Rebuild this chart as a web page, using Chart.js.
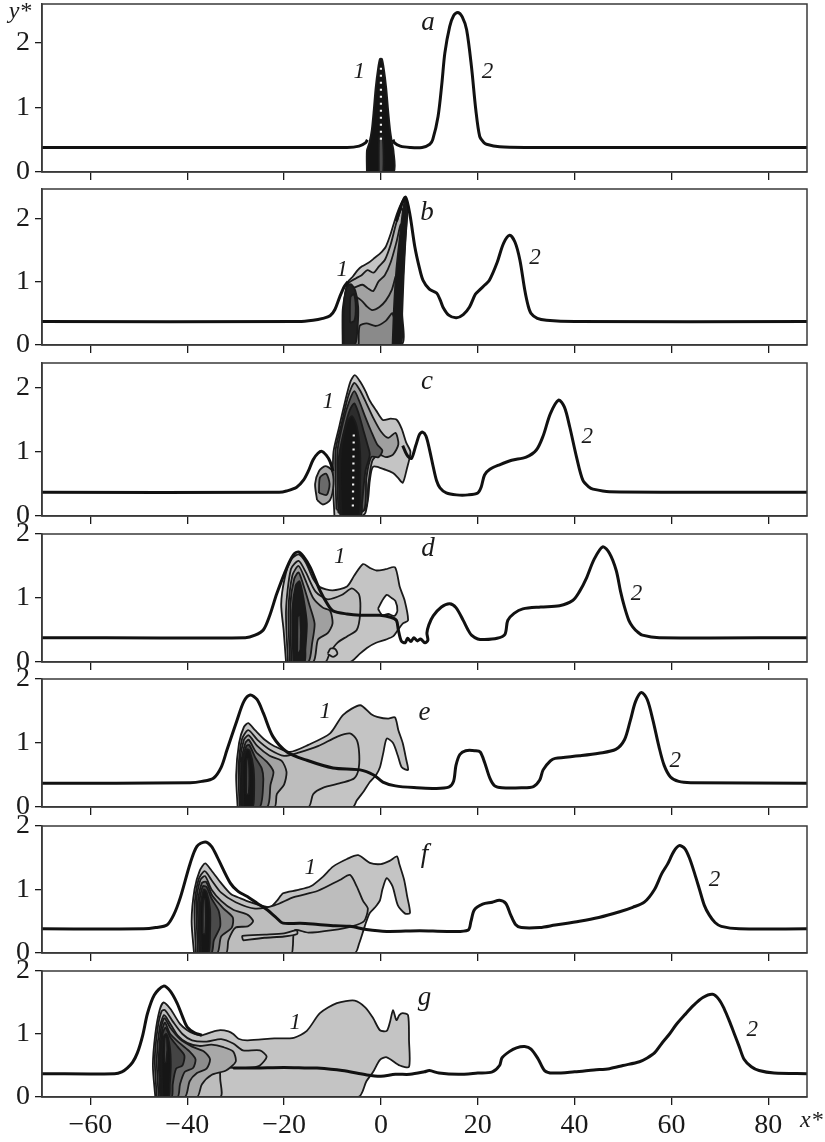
<!DOCTYPE html>
<html>
<head>
<meta charset="utf-8">
<script src="https://cdn.jsdelivr.net/npm/chart.js@4.4.0/dist/chart.umd.min.js"></script>
<style>
  html, body { margin: 0; padding: 0; background: #fff; width: 825px; height: 1142px; overflow: hidden; }
  #wrap { position: relative; width: 825px; height: 1142px; }
  #wrap canvas { position: absolute; left: 0; }
</style>
</head>
<body>
<div id="wrap"></div>
<script>
// axis ticks
const xTicks = [-60, -40, -20, 0, 20, 40, 60, 80];
const yTicks = [0, 1, 2];

// ---- curve 2 (one or two pieces per panel), [x*, y*] ----
const curveA1 = [[-70,0.38],[-7,0.38],[-4.5,0.4],[-3.2,0.45],[-2.8,0.5]];
const curveA2 = [[2.5,0.5],[2.8,0.45],[4,0.4],[6,0.38],[8.5,0.38],[10.1,0.43],[10.7,0.5],[11.8,0.86],[12.6,1.38],[13.2,1.84],[14.2,2.25],[15,2.42],[15.9,2.47],[16.8,2.4],[17.7,2.2],[18.7,1.63],[19.6,0.96],[20.4,0.55],[21.2,0.46],[21.8,0.43],[24.5,0.39],[30,0.38],[88,0.38]];

const curveB1 = [[-70,0.37],[-17,0.37],[-14,0.39],[-12,0.42],[-10.5,0.46],[-9.5,0.56],[-8.5,0.76],[-7.5,0.93],[-6.8,1.0]];
const curveB2 = [[3.2,1.95],[4.2,2.2],[5.1,2.33],[6,2.05],[7,1.55],[8,1.2],[8.7,1.02],[10,0.88],[11.5,0.82],[12.3,0.7],[12.8,0.6],[14,0.47],[15.6,0.43],[17,0.48],[18.3,0.6],[19.5,0.8],[20.4,0.87],[21.5,0.95],[22.4,1.02],[24,1.3],[25.3,1.6],[26.6,1.73],[27.7,1.62],[28.7,1.34],[29.7,0.87],[30.4,0.62],[31,0.5],[32.3,0.42],[34.2,0.39],[40,0.37],[88,0.37]];

const curveC1 = [[-70,0.37],[-21,0.37],[-19.5,0.39],[-17.4,0.45],[-16,0.56],[-15,0.7],[-14,0.88],[-13,0.98],[-12.2,1.01],[-11.3,0.95],[-10.5,0.85],[-9.9,0.7]];
const curveC2 = [[4.5,1.1],[5.4,0.95],[6.3,0.9],[7.2,1.1],[8,1.28],[8.6,1.31],[9.3,1.25],[10,1.05],[10.8,0.77],[11.5,0.55],[12.2,0.44],[13.5,0.36],[15.6,0.33],[18,0.33],[20,0.36],[20.7,0.45],[21.4,0.64],[22.5,0.73],[24.5,0.8],[27,0.87],[30,0.92],[32.1,1.03],[33.5,1.25],[35,1.6],[36.7,1.81],[37.9,1.7],[39,1.39],[40.4,0.92],[41.7,0.56],[43,0.45],[43.8,0.42],[47.2,0.38],[88,0.37]];

const curveD = [[-70,0.38],[-28,0.38],[-26,0.42],[-24.3,0.5],[-23,0.72],[-21.5,1.07],[-19.4,1.48],[-18,1.68],[-17,1.72],[-16,1.65],[-14.6,1.48],[-12.6,1.12],[-11,0.9],[-9.9,0.8],[-7,0.75],[-4.3,0.73],[-0.2,0.73],[2,0.7],[3.2,0.65],[3.6,0.5],[4.2,0.33],[5,0.3],[5.5,0.37],[6.2,0.32],[6.8,0.38],[7.5,0.33],[8.2,0.36],[9.1,0.3],[9.7,0.34],[9.5,0.45],[9.9,0.58],[10.8,0.72],[12.5,0.86],[14.2,0.91],[15.5,0.85],[17,0.65],[18,0.5],[18.7,0.42],[20,0.36],[21.4,0.35],[24,0.37],[25.6,0.43],[26.2,0.65],[27.5,0.76],[29.3,0.83],[33,0.86],[36.9,0.88],[39.6,0.96],[41,1.1],[42.5,1.32],[44,1.6],[45.8,1.8],[47.2,1.7],[48.6,1.43],[49.5,1.1],[50.3,0.86],[51.2,0.65],[52,0.55],[53,0.47],[54,0.42],[57.5,0.38],[88,0.38]];

const curveE = [[-70,0.37],[-39.4,0.38],[-37,0.4],[-34.6,0.45],[-33,0.62],[-31.8,0.89],[-29.7,1.36],[-28.3,1.65],[-27,1.75],[-25.6,1.68],[-24.3,1.47],[-22.3,1.1],[-19.4,0.86],[-15.3,0.73],[-9.9,0.61],[-4.3,0.58],[-1.5,0.5],[0.4,0.39],[3,0.33],[7.4,0.3],[11,0.29],[14,0.31],[15,0.4],[15.5,0.65],[16.3,0.82],[17.5,0.88],[19.5,0.88],[20.5,0.86],[21.4,0.7],[22.5,0.45],[23.5,0.33],[25,0.3],[29,0.3],[31.5,0.32],[32.8,0.42],[33.5,0.58],[35,0.72],[36,0.76],[41,0.8],[45,0.84],[48.5,0.9],[50.3,1.05],[51.5,1.35],[52.6,1.65],[53.8,1.79],[55,1.68],[56.2,1.35],[57.4,0.95],[58.5,0.65],[59.8,0.47],[61.5,0.4],[64,0.38],[88,0.37]];

const curveF = [[-70,0.38],[-49,0.38],[-46.5,0.4],[-44.2,0.44],[-42.8,0.6],[-41.4,0.88],[-39.4,1.41],[-38,1.68],[-36.3,1.75],[-35,1.68],[-33.8,1.51],[-31.1,1.1],[-29.5,0.97],[-27.6,0.89],[-25.5,0.78],[-23.5,0.68],[-21.8,0.57],[-20.2,0.47],[-16.7,0.47],[-13,0.45],[-9.5,0.43],[-6.4,0.42],[-3,0.37],[1.2,0.34],[8,0.35],[14,0.34],[18,0.36],[18.6,0.5],[19.3,0.68],[21,0.77],[23,0.8],[24.5,0.83],[25.8,0.78],[26.8,0.6],[27.8,0.45],[29,0.4],[32.8,0.4],[36,0.44],[41,0.5],[45,0.56],[49.3,0.65],[52,0.72],[54.4,0.8],[56.5,1.0],[58,1.25],[59.2,1.4],[60.5,1.6],[61.6,1.69],[62.7,1.65],[63.7,1.5],[64.8,1.25],[65.8,1.0],[66.8,0.75],[67.8,0.6],[69,0.48],[70.3,0.42],[74,0.38],[88,0.38]];

const curveG1 = [[-70,0.37],[-55,0.37],[-53.5,0.4],[-52.4,0.46],[-51.3,0.55],[-50.3,0.7],[-49.2,0.98],[-48.2,1.33],[-46.8,1.62],[-44.9,1.76],[-43.5,1.68],[-42.1,1.49],[-41,1.28],[-40,1.11],[-38.5,1.02],[-37,0.98]];
const curveG2 = [[-30.5,0.46],[-26,0.46],[-20,0.47],[-15,0.46],[-13.2,0.46],[-8,0.42],[-2.9,0.35],[0,0.33],[3,0.36],[6,0.36],[9,0.4],[10,0.42],[12,0.38],[16,0.36],[20,0.38],[23,0.4],[24.5,0.5],[25,0.62],[26.5,0.72],[28,0.78],[29.7,0.8],[31,0.76],[32.5,0.6],[33.8,0.42],[35.5,0.38],[40,0.4],[44,0.43],[47.2,0.45],[50,0.5],[53.4,0.56],[55,0.62],[56.5,0.7],[58,0.85],[59.6,1.0],[61,1.15],[62.7,1.3],[64.5,1.45],[66.5,1.58],[68.5,1.63],[69.8,1.55],[70.9,1.4],[72,1.2],[73,1.0],[74,0.8],[75,0.6],[76.5,0.48],[78.1,0.42],[81.2,0.38],[88,0.37]];

// ---- region 1: contour levels, outer to inner ----
const spikeA = [[-2.9,0],[-2.9,0.33],[-2.4,0.45],[-1.9,0.65],[-1.5,0.95],[-1.1,1.3],[-0.6,1.6],[-0.2,1.75],[0.2,1.75],[0.6,1.6],[1.1,1.3],[1.5,0.95],[1.9,0.65],[2.3,0.45],[2.6,0.33],[2.6,0]];
const stripeA = [[-0.45,0],[-0.35,0.55],[0.35,0.55],[0.45,0]];
const dotsA = [[0,0.5],[0,1.68]];

const outerB = [[-7.9,0],[-7.9,0.55],[-7.3,0.85],[-6.8,1.0],[-5.8,1.08],[-4.8,1.18],[-3.9,1.24],[-2.5,1.3],[-1.2,1.38],[-0.2,1.44],[1,1.55],[2,1.75],[3,2.0],[4,2.2],[5,2.33],[5.5,2.15],[5.1,1.7],[4.7,1.1],[4.4,0.5],[4.2,0]];
const levB2 = [[-7.6,0],[-7.6,0.7],[-6.6,0.98],[-5.2,1.05],[-4,1.1],[-2.8,1.18],[-1.5,1.14],[-0.4,1.24],[0.8,1.34],[2,1.58],[3.2,1.93],[4.3,2.15],[4.9,2.0],[4.5,1.4],[4.1,0.7],[3.8,0]];
const levB3 = [[-7.3,0],[-7.3,0.7],[-6.2,0.88],[-5,0.92],[-3.8,0.95],[-2.8,0.9],[-1.6,0.85],[-0.5,1.0],[0.8,1.1],[2,1.3],[3.2,1.62],[4.1,1.9],[4.3,1.5],[3.9,0.8],[3.5,0]];
const levB4 = [[-6.9,0],[-6.9,0.6],[-5.5,0.76],[-4,0.7],[-2.8,0.6],[-1.8,0.55],[-0.3,0.6],[1,0.7],[2.2,0.86],[3.2,1.1],[3.7,0.8],[3.3,0]];
const levB5 = [[-4.6,0],[-4.4,0.3],[-3,0.34],[-1,0.3],[1,0.38],[2.4,0.5],[3.1,0]];
const bandB = [[2.4,0],[2.7,0.6],[3.2,1.2],[3.9,1.7],[4.6,2.15],[5.1,2.3],[5.3,2.0],[4.8,1.4],[4.4,0.8],[4.1,0]];
const blobB = [[-7.7,0],[-7.7,0.55],[-7.1,0.9],[-6.2,0.96],[-5.3,0.86],[-4.7,0.6],[-4.9,0.2],[-5.4,0]];
const coreB = [[-6.4,0.35],[-6.3,0.75],[-5.6,0.8],[-5.2,0.6],[-5.5,0.38]];

const outerC = [[-9.6,0],[-9.9,0.5],[-9.8,1.0],[-8.6,1.4],[-7.3,1.82],[-6.3,2.1],[-5.4,2.2],[-4.3,2.1],[-3.2,1.95],[-2.3,1.8],[-1,1.65],[0.4,1.5],[2,1.52],[3.3,1.5],[4.3,1.36],[5.2,1.15],[6.1,1.0],[5.3,0.72],[4.5,0.52],[3.5,0.6],[2.5,0.67],[1,0.72],[-1.6,0.77],[-2.3,0.55],[-2.6,0.3],[-3.2,0.05],[-4,0]];
const levC2 = [[-9.2,0.1],[-9.4,1.0],[-8.1,1.45],[-6.8,1.86],[-5.5,2.08],[-4.3,1.96],[-3,1.76],[-1.5,1.52],[0,1.32],[1.5,1.22],[3,1.3],[3.6,1.12],[2.5,0.96],[1,0.92],[-0.5,0.96],[-1.8,0.86],[-2.6,0.5],[-3.3,0.1]];
const levC3 = [[-8.8,0.05],[-9,1.0],[-7.7,1.5],[-6.5,1.8],[-5.5,1.95],[-4.5,1.8],[-3.3,1.56],[-2,1.32],[-0.8,1.12],[0.3,1.02],[-0.5,0.92],[-2,0.92],[-3,0.6],[-3.6,0.08]];
const levC4 = [[-8.4,0],[-8.7,0.9],[-7.4,1.4],[-6.4,1.66],[-5.5,1.76],[-4.6,1.6],[-3.7,1.36],[-2.8,1.12],[-2.3,0.96],[-3.2,0.7],[-3.9,0.2],[-4.2,0]];
const coreC = [[-8.1,0],[-8.4,0.6],[-8.1,1.1],[-7,1.46],[-6,1.56],[-5,1.4],[-4.3,1.0],[-4.3,0.5],[-4.6,0]];
const blobC = [[-13.2,0.25],[-13.6,0.5],[-12.8,0.7],[-11.5,0.78],[-10.2,0.72],[-9.8,0.5],[-10.5,0.25],[-12,0.18]];
const blobC2 = [[-12.8,0.36],[-12.6,0.6],[-11.3,0.66],[-10.6,0.5],[-11.2,0.33]];
const dotsC = [[-5.8,0.15],[-5.6,1.3]];

const outerD = [[-19.6,0],[-20.1,0.5],[-20.6,0.9],[-19.9,1.3],[-18.6,1.6],[-17,1.68],[-15.5,1.55],[-14,1.3],[-12.6,1.17],[-10,1.12],[-7,1.18],[-5.5,1.35],[-3.7,1.53],[-2.3,1.47],[-0.9,1.43],[1,1.45],[2.9,1.48],[3.9,1.17],[4.9,0.96],[5.6,0.65],[4.5,0.6],[3.5,0.5],[2.5,0.4],[1,0.35],[-1,0.3],[-2.9,0.22],[-4.5,0.12],[-6.4,0]];
const levD2 = [[-19.2,0],[-19.6,0.8],[-18.6,1.45],[-17,1.58],[-15.5,1.4],[-13.5,1.1],[-11,0.98],[-8,1.05],[-6,1.15],[-4.5,1.05],[-4.3,0.75],[-5,0.5],[-7,0.4],[-9,0.3],[-10.5,0.15],[-11.5,0]];
const levD3 = [[-18.8,0],[-19.1,0.8],[-18.3,1.35],[-17,1.5],[-15.7,1.3],[-14,1.0],[-12,0.85],[-10.5,0.8],[-10,0.6],[-11,0.45],[-13,0.35],[-14,0]];
const levD4 = [[-18.5,0],[-18.7,0.9],[-17.9,1.3],[-17,1.4],[-16,1.2],[-14.8,0.9],[-13.7,0.6],[-14.2,0.3],[-15,0]];
const coreD = [[-18.1,0],[-18.3,0.8],[-17.6,1.2],[-16.8,1.26],[-16,1.0],[-15.3,0.6],[-15.6,0.2],[-15.8,0]];
const streakD = [[-17.3,0.1],[-17.2,0.7],[-16.7,0.75],[-16.6,0.2]];
const ovalD = [[-11,0.13],[-10.4,0.21],[-9.4,0.2],[-9,0.13],[-9.9,0.08]];
const holeD = [[-0.6,0.83],[0.2,0.95],[1.2,1.05],[2.2,1.0],[3.0,0.95],[3.4,0.8],[2.8,0.72],[1.5,0.75],[0.3,0.73]];

const outerE = [[-29.6,0],[-29.9,0.5],[-29.3,1.0],[-28.3,1.25],[-27.4,1.31],[-26,1.2],[-24,1.05],[-22,0.95],[-18.8,0.86],[-15,0.97],[-10.5,1.15],[-7.8,1.44],[-4.3,1.59],[-2,1.45],[-0.8,1.41],[1.5,1.38],[2.9,1.4],[3.6,1.2],[4.5,1.0],[5.2,0.75],[5.6,0.58],[4.3,0.62],[3.5,0.8],[2.5,1.0],[1.2,1.07],[0.5,0.85],[-0.2,0.62],[-1,0.5],[-2.3,0.39],[-3.5,0.25],[-5,0.1],[-5.8,0]];
const levE2 = [[-29.2,0],[-29.4,0.6],[-28.7,1.06],[-27.4,1.2],[-25.5,1.05],[-23,0.9],[-20,0.8],[-17,0.85],[-13,0.95],[-9,1.1],[-6.4,1.15],[-5,1.05],[-4.5,0.85],[-4.6,0.6],[-5.5,0.45],[-8,0.38],[-12,0.3],[-14,0.2],[-15,0]];
const levE3 = [[-28.9,0],[-29.1,0.7],[-28.3,1.05],[-27.3,1.12],[-25.5,0.95],[-23,0.8],[-20.5,0.72],[-19.5,0.55],[-20,0.35],[-21.5,0.2],[-22,0]];
const levE4 = [[-28.7,0],[-28.8,0.7],[-28,1.0],[-27.3,1.05],[-25.8,0.86],[-23.5,0.7],[-22.2,0.55],[-22.8,0.35],[-23.5,0]];
const levE5 = [[-28.5,0],[-28.6,0.7],[-27.8,0.95],[-27.2,0.97],[-26,0.78],[-24.6,0.6],[-24.3,0.4],[-25,0]];
const coreE = [[-28.4,0],[-28.5,0.7],[-27.7,0.9],[-27.1,0.88],[-26.3,0.6],[-26.2,0.2],[-26.5,0]];
const streakE = [[-27.8,0.2],[-27.7,0.75],[-27.3,0.75],[-27.3,0.2]];

const outerF = [[-38.6,0],[-39.1,0.5],[-38.5,1.0],[-37.4,1.3],[-36.3,1.41],[-35,1.3],[-33,1.1],[-31,0.93],[-29,0.86],[-27,0.8],[-23,0.72],[-21.5,0.82],[-20.2,0.94],[-17.3,0.99],[-14.5,1.05],[-12,1.2],[-9.9,1.36],[-7,1.48],[-4.7,1.54],[-2.3,1.42],[0,1.4],[1.8,1.45],[3.3,1.52],[3.8,1.4],[4.8,1.15],[5.4,0.9],[6,0.63],[5,0.62],[3.5,0.75],[2.4,1.05],[1.2,1.18],[0.3,1.0],[-0.2,0.83],[-1.2,0.72],[-2.3,0.63],[-3,0.5],[-3.6,0.36],[-4.5,0.15],[-5.4,0]];
const levF2 = [[-38.2,0],[-38.5,0.7],[-37.7,1.15],[-36.4,1.29],[-35,1.15],[-33,0.95],[-30,0.8],[-26,0.7],[-22,0.75],[-18,0.88],[-13,0.98],[-8.5,1.15],[-6.4,1.23],[-5,1.05],[-3.7,0.82],[-2.7,0.7],[-3.5,0.5],[-6,0.42],[-10,0.36],[-15,0.32],[-17.8,0.36],[-18.2,0.1],[-18.5,0]];
const levF3 = [[-37.8,0],[-38.1,0.8],[-37.3,1.15],[-36.3,1.21],[-35,1.0],[-33,0.82],[-30.5,0.68],[-27.5,0.6],[-26.4,0.5],[-27.5,0.42],[-30,0.4],[-31.5,0.2],[-32,0]];
const levF4 = [[-37.5,0],[-37.8,0.8],[-37,1.1],[-36.1,1.12],[-34.8,0.9],[-32.5,0.7],[-30.6,0.56],[-30.8,0.4],[-33,0.26],[-33.8,0]];
const levF5 = [[-37.3,0],[-37.5,0.8],[-36.8,1.05],[-36,1.04],[-35,0.86],[-33.5,0.66],[-33.2,0.42],[-34.5,0.2],[-35,0]];
const coreF = [[-37.1,0],[-37.3,0.7],[-36.6,1.0],[-36,0.96],[-35.3,0.7],[-35.3,0.3],[-35.6,0]];
const streakF = [[-36.8,0.3],[-36.7,0.85],[-36.3,0.85],[-36.3,0.3]];
const barF = [[-28.5,0.2],[-28.6,0.27],[-24,0.29],[-20,0.31],[-17.4,0.36],[-17.3,0.3],[-20,0.26],[-24,0.24]];

const outerG = [[-46.6,0],[-47.1,0.5],[-46.6,1.0],[-45.7,1.38],[-44.9,1.5],[-43.5,1.4],[-41.5,1.16],[-40,1.06],[-38.5,1.0],[-37,0.98],[-35,1.03],[-33.2,1.06],[-31.5,1.04],[-30.5,1.0],[-29.3,0.92],[-27.5,0.9],[-22,0.93],[-18,0.94],[-15.3,1.05],[-12.6,1.33],[-9.1,1.49],[-5.4,1.53],[-3.2,1.42],[-1.6,1.25],[-0.2,1.06],[1.2,1.05],[1.9,1.2],[2.5,1.38],[3.2,1.22],[3.8,1.3],[4.5,1.33],[5.6,1.3],[5.8,0.9],[5.8,0.48],[3.9,0.5],[1.2,0.63],[-0.2,0.59],[-1.6,0.4],[-3,0.25],[-4.7,0]];
const levG2 = [[-46.3,0],[-46.7,0.6],[-46.1,1.1],[-45.3,1.36],[-44.6,1.38],[-43,1.2],[-41,1.0],[-39,0.9],[-36,0.88],[-33,0.92],[-30.5,0.85],[-28.5,0.74],[-25,0.74],[-23.6,0.64],[-25,0.5],[-26.5,0.47],[-30,0.46],[-33,0.47],[-33.2,0.3],[-33.2,0]];
const levG3 = [[-45.9,0],[-46.3,0.6],[-45.7,1.1],[-44.8,1.3],[-43.8,1.2],[-42,0.98],[-40,0.86],[-37.5,0.81],[-35,0.83],[-32.5,0.79],[-30.5,0.72],[-30,0.56],[-32,0.42],[-35,0.35],[-37,0.2],[-38,0]];
const levG4 = [[-45.6,0],[-45.9,0.6],[-45.4,1.1],[-44.7,1.25],[-43.5,1.1],[-41.5,0.92],[-39,0.8],[-36.5,0.72],[-35.3,0.6],[-36,0.45],[-38,0.38],[-39.5,0.25],[-40.5,0]];
const levG5 = [[-45.4,0],[-45.7,0.6],[-45.2,1.05],[-44.6,1.18],[-43.5,1.0],[-41.5,0.85],[-39.5,0.72],[-38.3,0.6],[-38.8,0.46],[-40.5,0.4],[-41.5,0.2],[-42,0]];
const levG6 = [[-45.2,0],[-45.5,0.6],[-45.1,1.0],[-44.5,1.1],[-43.5,0.95],[-42,0.8],[-40.6,0.66],[-41,0.5],[-42.3,0.45],[-43,0.2],[-43.2,0]];
const coreG = [[-45.1,0],[-45.3,0.6],[-44.9,0.95],[-44.3,1.0],[-43.6,0.8],[-43.4,0.5],[-43.6,0.2],[-43.8,0]];
const streakG = [[-44.7,0.55],[-44.6,0.95],[-44.2,0.95],[-44.3,0.55]];

// label anchors (data coords)
const letterPos = [[9.7,2.31],[9.5,2.09],[9.5,2.09],[9.7,1.77],[9,1.47],[9,1.54],[9,1.57]];
const label1Pos = [[-4.5,1.55],[-8,1.18],[-10.9,1.78],[-8.5,1.64],[-11.5,1.48],[-14.6,1.34],[-17.7,1.17]];
const label2Pos = [[22,1.55],[31.8,1.37],[42.6,1.23],[52.8,1.07],[60.8,0.72],[68.9,1.15],[76.7,1.06]];

// --- styling / layout ---
const SERIF = '"Liberation Serif", "DejaVu Serif", serif';
const INK = '#1a1a1a';
const LIGHT = '#c4c4c4';

const panels = [
  { name: 'a', top: 4,   bottom: 172,  ymax: 2.6,  curves: [curveA1, curveA2],
    region: [spikeA, stripeA], shades: ['#141414', '#4a4a4a'], dots: [dotsA] },
  { name: 'b', top: 189, bottom: 345,  ymax: 2.46, curves: [curveB1, curveB2],
    region: [outerB, levB2, levB3, levB4, levB5, bandB, blobB, coreB],
    shades: [LIGHT, '#b4b4b4', '#a2a2a2', '#989898', '#8a8a8a', '#181818', '#202020', '#4e4e4e'], dots: [] },
  { name: 'c', top: 363, bottom: 516,  ymax: 2.39, curves: [curveC1, curveC2],
    region: [outerC, levC2, levC3, levC4, coreC, blobC, blobC2],
    shades: [LIGHT, '#a0a0a0', '#5a5a5a', '#2c2c2c', '#161616', '#a4a4a4', '#6a6a6a'], dots: [dotsC] },
  { name: 'd', top: 534, bottom: 662,  ymax: 2, curves: [curveD],
    region: [outerD, levD2, levD3, levD4, coreD, streakD, ovalD, holeD],
    shades: [LIGHT, '#bcbcbc', '#a0a0a0', '#707070', '#1a1a1a', '#555555', LIGHT, '#ffffff'], dots: [] },
  { name: 'e', top: 679, bottom: 807,  ymax: 2, curves: [curveE],
    region: [outerE, levE2, levE3, levE4, levE5, coreE, streakE],
    shades: [LIGHT, '#bdbdbd', '#a4a4a4', '#7c7c7c', '#4a4a4a', '#161616', '#555555'], dots: [] },
  { name: 'f', top: 826, bottom: 953,  ymax: 2, curves: [curveF],
    region: [outerF, levF2, levF3, levF4, levF5, coreF, streakF, barF],
    shades: [LIGHT, '#bdbdbd', '#a4a4a4', '#7c7c7c', '#4a4a4a', '#161616', '#555555', LIGHT], dots: [] },
  { name: 'g', top: 971, bottom: 1097, ymax: 2, curves: [curveG1, curveG2],
    region: [outerG, levG2, levG3, levG4, levG5, levG6, coreG, streakG],
    shades: [LIGHT, '#bdbdbd', '#a8a8a8', '#8c8c8c', '#6a6a6a', '#444444', '#161616', '#666666'], dots: [], last: true }
];

function pts(arr) { return arr.map(p => ({ x: p[0], y: p[1] })); }
function closed(arr) { return pts(arr.concat([arr[0]])); }
function fmt(v) { return v < 0 ? '\u2212' + Math.abs(v) : String(v); }

const framePlugin = {
  id: 'frame',
  afterDraw(chart) {
    const { ctx, chartArea: a } = chart;
    ctx.save();
    ctx.strokeStyle = '#3a3a3a';
    ctx.lineWidth = 1.5;
    ctx.strokeRect(a.left, a.top, a.right - a.left, a.bottom - a.top);
    ctx.restore();
  }
};

function textPlugin(p, i) {
  return {
    id: 'txt' + p.name,
    afterDatasetsDraw(chart) {
      const { ctx, chartArea: a, scales: { x, y } } = chart;
      ctx.save();
      ctx.fillStyle = INK;
      ctx.textAlign = 'center';
      ctx.textBaseline = 'middle';
      ctx.font = 'italic 27px ' + SERIF;
      ctx.fillText(p.name, x.getPixelForValue(letterPos[i][0]), y.getPixelForValue(letterPos[i][1]));
      ctx.font = 'italic 23px ' + SERIF;
      ctx.fillText('1', x.getPixelForValue(label1Pos[i][0]), y.getPixelForValue(label1Pos[i][1]));
      ctx.fillText('2', x.getPixelForValue(label2Pos[i][0]), y.getPixelForValue(label2Pos[i][1]));
      ctx.font = 'italic 24px ' + SERIF;
      if (p.name === 'a') ctx.fillText('y*', a.left - 22, a.top + 8);
      if (p.last) {
        ctx.textAlign = 'left';
        ctx.fillText('x*', a.right - 7, a.bottom + 24);
      }
      ctx.restore();
    }
  };
}

// room above/below the plot for half of a y tick label (+ its padding)
const PAD_TOP = 24;
const wrap = document.getElementById('wrap');

panels.forEach((p, i) => {
  const xh = p.last ? 46 : 24;
  const canvas = document.createElement('canvas');
  canvas.width = 825;
  canvas.height = (p.bottom - p.top) + PAD_TOP + xh;
  canvas.style.top = (p.top - PAD_TOP) + 'px';
  wrap.appendChild(canvas);

  const datasets = [];
  let order = 200;
  p.region.forEach((poly, k) => {
    datasets.push({
      data: closed(poly),
      fill: 'shape',
      backgroundColor: p.shades[k],
      borderColor: INK,
      borderWidth: 1.8,
      tension: 0.25,
      pointRadius: 0,
      order: order--
    });
  });
  p.dots.forEach(d => {
    datasets.push({
      data: pts(d), fill: false, borderColor: '#f4f4f4', borderWidth: 2.2,
      borderDash: [2, 5], pointRadius: 0, order: 5
    });
  });
  p.curves.forEach(c => {
    datasets.push({
      data: pts(c), fill: false, borderColor: '#111', borderWidth: 3,
      tension: 0.3, pointRadius: 0, order: 0
    });
  });

  new Chart(canvas, {
    type: 'line',
    data: { datasets },
    options: {
      responsive: false,
      animation: false,
      devicePixelRatio: 1,
      events: [],
      layout: { padding: { top: PAD_TOP, right: 18, left: 0, bottom: 0 } },
      plugins: { legend: { display: false }, tooltip: { enabled: false } },
      scales: {
        x: {
          type: 'linear', min: -70, max: 88,
          afterBuildTicks: s => { s.ticks = xTicks.map(v => ({ value: v })); },
          afterFit: s => { s.height = xh; },
          ticks: { display: !!p.last, autoSkip: false, maxRotation: 0, padding: 4,
                   color: INK, font: { family: SERIF, size: 28 }, callback: v => fmt(v) },
          grid: { drawOnChartArea: false, drawTicks: true, tickLength: 8, color: INK, lineWidth: 1.3 },
          border: { display: true, color: '#3a3a3a', width: 1.5 }
        },
        y: {
          type: 'linear', min: 0, max: p.ymax,
          afterBuildTicks: s => { s.ticks = yTicks.map(v => ({ value: v })); },
          afterFit: s => { s.width = 42; },
          ticks: { padding: 5, color: INK, font: { family: SERIF, size: 28 }, callback: v => fmt(v) },
          grid: { drawOnChartArea: false, drawTicks: true, tickLength: 7, color: INK, lineWidth: 1.3 },
          border: { display: true, color: '#3a3a3a', width: 1.5 }
        }
      }
    },
    plugins: [framePlugin, textPlugin(p, i)]
  });
});
</script>
</body>
</html>
